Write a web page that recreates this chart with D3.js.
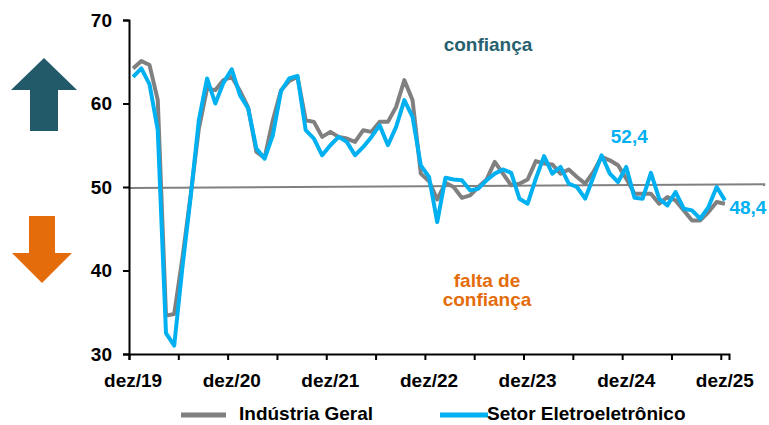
<!DOCTYPE html>
<html>
<head>
<meta charset="utf-8">
<script src="https://cdn.jsdelivr.net/npm/d3@7"></script>
<style>
  body { margin: 0; background: #fff; }
  text { font-family: "Liberation Sans", Arial, sans-serif; font-weight: bold; }
</style>
</head>
<body>
<div id="chart"></div>
<script>
// months, dez/19 .. dez/25
var months = [
  "dez/19","jan/20","fev/20","mar/20","abr/20","mai/20","jun/20","jul/20","ago/20","set/20","out/20","nov/20",
  "dez/20","jan/21","fev/21","mar/21","abr/21","mai/21","jun/21","jul/21","ago/21","set/21","out/21","nov/21",
  "dez/21","jan/22","fev/22","mar/22","abr/22","mai/22","jun/22","jul/22","ago/22","set/22","out/22","nov/22",
  "dez/22","jan/23","fev/23","mar/23","abr/23","mai/23","jun/23","jul/23","ago/23","set/23","out/23","nov/23",
  "dez/23","jan/24","fev/24","mar/24","abr/24","mai/24","jun/24","jul/24","ago/24","set/24","out/24","nov/24",
  "dez/24","jan/25","fev/25","mar/25","abr/25","mai/25","jun/25","jul/25","ago/25","set/25","out/25","nov/25",
  "dez/25"
];

var industriaGeral = [
  64.2, 65.1, 64.6, 60.4, 34.6, 34.8, 41.5, 49.0, 57.0, 61.8, 61.6, 62.8,
  63.2, 61.5, 59.5, 54.2, 53.5, 58.0, 61.6, 62.7, 63.2, 58.0, 57.8, 56.0,
  56.6, 56.0, 55.8, 55.4, 56.8, 56.6, 57.8, 57.8, 59.6, 62.8, 60.4, 51.6,
  50.7, 48.5, 50.5, 50.0, 48.7, 49.0, 50.0, 50.9, 53.0, 51.6, 50.2, 50.4,
  50.9, 53.1, 52.8, 52.7, 51.6, 52.1, 51.2, 50.4, 51.8, 53.6, 53.2, 52.6,
  51.0, 49.2, 49.2, 49.2, 48.0, 48.8, 48.4, 47.2, 46.0, 46.0, 47.0, 48.2,
  48.0
];

var setorEletro = [
  63.2, 64.2, 62.3, 56.8, 32.5, 31.0, 40.4, 48.8, 58.0, 63.0, 60.0, 62.5,
  64.1, 61.0, 59.4, 54.6, 53.4, 56.2, 61.5, 63.0, 63.3, 56.8, 55.8, 53.8,
  55.0, 56.0, 55.4, 53.8, 54.8, 56.0, 57.4, 55.0, 57.2, 60.4, 58.4, 52.6,
  51.2, 45.8, 51.1, 50.9, 50.8, 49.6, 49.8, 50.8, 51.6, 52.1, 51.7, 48.6,
  48.0, 51.0, 53.7, 51.6, 52.4, 50.4, 50.0, 48.6, 51.2, 53.8, 51.6, 50.6,
  52.4, 48.7, 48.6, 51.7, 48.6, 47.8, 49.4, 47.4, 47.2, 46.2, 47.6, 50.0,
  48.4
];

var yTicks = [30, 40, 50, 60, 70];
var xTickLabels = ["dez/19", "dez/20", "dez/21", "dez/22", "dez/23", "dez/24", "dez/25"];

// the near-flat reference line around 50 (slightly rising)
var refLine = [{ i: -0.5, v: 49.88 }, { i: 76.9, v: 50.32 }];

// point labels
var callouts = [
  { month: "dez/24", value: 52.4, text: "52,4", dx: 3, dy: -24 },
  { month: "dez/25", value: 48.4, text: "48,4", dx: 23, dy: 14 }
];

var W = 769, H = 425;
var margin = { top: 20, right: 40, bottom: 71, left: 129 };
var width = 729 - margin.left;
var height = 354 - margin.top;

var svg = d3.select('#chart')
  .append('svg')
  .attr('width', W)
  .attr('height', H);

var g = svg.append('g')
  .attr('transform', 'translate(' + margin.left + ',' + margin.top + ')');

// category axis: points sit in the middle of each month slot
var x = d3.scaleLinear().domain([-0.5, months.length - 0.5]).range([0, width]);
var y = d3.scaleLinear().domain([30, 70]).range([height, 0]);

var grey = '#808080';
var cyan = '#00b0f0';

// reference line
g.append('path')
  .datum(refLine)
  .attr('fill', 'none')
  .attr('stroke', grey)
  .attr('stroke-width', 2)
  .attr('d', d3.line().x(d => x(d.i)).y(d => y(d.v)));

var line = d3.line()
  .x((d, i) => x(i))
  .y(d => y(d));

g.append('path')
  .datum(industriaGeral)
  .attr('fill', 'none')
  .attr('stroke', grey)
  .attr('stroke-width', 4)
  .attr('stroke-linejoin', 'round')
  .attr('d', line);

g.append('path')
  .datum(setorEletro)
  .attr('fill', 'none')
  .attr('stroke', cyan)
  .attr('stroke-width', 4)
  .attr('stroke-linejoin', 'round')
  .attr('d', line);

// y axis
var yAxis = g.append('g')
  .call(d3.axisLeft(y).tickValues(yTicks).tickSize(6).tickPadding(11).tickFormat(d3.format('d')));
yAxis.select('.domain').attr('stroke', '#000').attr('stroke-width', 2);
yAxis.selectAll('.tick line').attr('stroke', '#000').attr('stroke-width', 2);
yAxis.selectAll('text')
  .style('font-size', '19px')
  .style('font-weight', 'bold')
  .style('font-family', '"Liberation Sans", Arial, sans-serif')
  .attr('fill', '#000');

// x axis: ticks every 6 months between slots, labels every 12 months
var tickIdx = d3.range(0, months.length, 6).map(i => i - 0.5);
var xAxis = g.append('g')
  .attr('transform', 'translate(0,' + height + ')')
  .call(d3.axisBottom(x).tickValues(tickIdx).tickSize(6).tickFormat(''));
xAxis.select('.domain').attr('stroke', '#000').attr('stroke-width', 2);
xAxis.selectAll('.tick line').attr('stroke', '#000').attr('stroke-width', 2);

g.selectAll('.xlab')
  .data(xTickLabels)
  .enter().append('text')
  .attr('class', 'xlab')
  .attr('x', d => x(months.indexOf(d)))
  .attr('y', height + 33)
  .attr('text-anchor', 'middle')
  .style('font-size', '19px')
  .attr('fill', '#000')
  .text(d => d);

// callouts
g.selectAll('.callout')
  .data(callouts)
  .enter().append('text')
  .attr('class', 'callout')
  .attr('x', d => x(months.indexOf(d.month)) + d.dx)
  .attr('y', d => y(d.value) + d.dy)
  .attr('text-anchor', 'middle')
  .style('font-size', '19px')
  .attr('fill', cyan)
  .text(d => d.text);

// annotations
svg.append('text')
  .attr('x', 488).attr('y', 51)
  .attr('text-anchor', 'middle')
  .style('font-size', '19px')
  .attr('fill', '#27606f')
  .text('confiança');

var falta = svg.append('text')
  .attr('text-anchor', 'middle')
  .style('font-size', '19px')
  .attr('fill', '#e46c0a');
falta.append('tspan').attr('x', 487).attr('y', 287).text('falta de');
falta.append('tspan').attr('x', 487).attr('y', 306).text('confiança');

// arrows
svg.append('path')
  .attr('d', 'M44,58 L77,90 L58,90 L58,131 L30,131 L30,90 L11,90 Z')
  .attr('fill', '#235a69');
svg.append('path')
  .attr('d', 'M29,216 L55,216 L55,253 L72,253 L42,283 L12,253 L29,253 Z')
  .attr('fill', '#e46c0a');

// legend
var legend = svg.append('g');
var legendItems = [
  { name: 'Indústria Geral', color: grey, x0: 181, x1: 226, tx: 239 },
  { name: 'Setor Eletroeletrônico', color: cyan, x0: 440, x1: 488, tx: 487 }
];
legendItems.forEach(function (d) {
  legend.append('line')
    .attr('x1', d.x0).attr('x2', d.x1)
    .attr('y1', 415).attr('y2', 415)
    .attr('stroke', d.color)
    .attr('stroke-width', 5);
  legend.append('text')
    .attr('x', d.tx).attr('y', 420)
    .style('font-size', '19px')
    .attr('fill', '#000')
    .text(d.name);
});
</script>
</body>
</html>
